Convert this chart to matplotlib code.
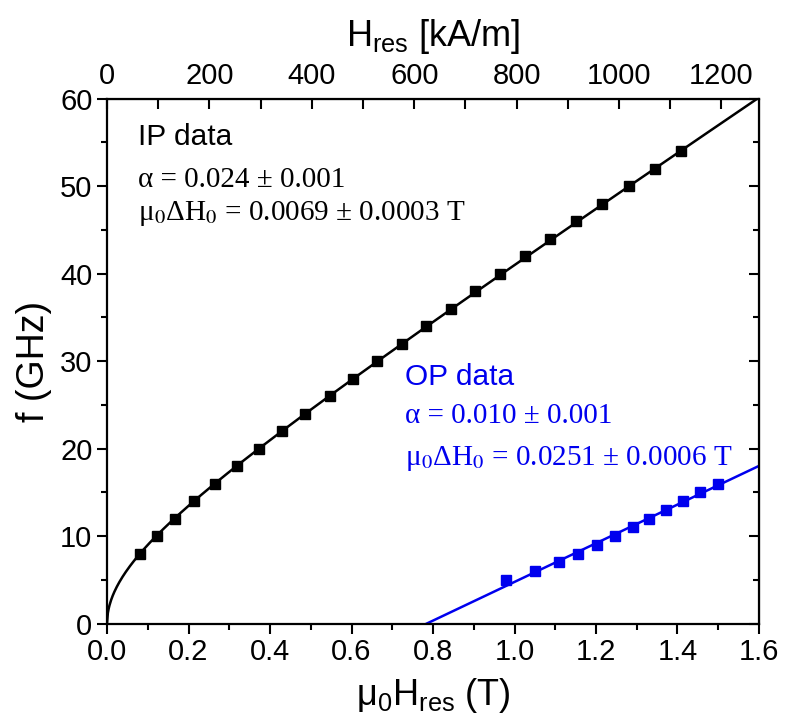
import numpy as np
import matplotlib
matplotlib.use("Agg")
import matplotlib.pyplot as plt
from matplotlib.ticker import MultipleLocator, FixedLocator

plt.rcParams['font.family'] = ['Liberation Sans', 'DejaVu Sans']
plt.rcParams['mathtext.fontset'] = 'custom'
plt.rcParams['mathtext.rm'] = 'Liberation Sans'
plt.rcParams['mathtext.it'] = 'Liberation Sans:italic'

MU0 = 4e-7 * np.pi

# in-plane data: resonance field (T) vs frequency (GHz)
ip_field = [0.081, 0.122, 0.167, 0.214, 0.265, 0.318, 0.374, 0.429, 0.486, 0.547,
            0.604, 0.662, 0.723, 0.783, 0.843, 0.903, 0.964, 1.026, 1.088, 1.151,
            1.215, 1.280, 1.344, 1.408]
ip_freq = [8, 10, 12, 14, 16, 18, 20, 22, 24, 26, 28, 30, 32, 34, 36, 38, 40, 42,
           44, 46, 48, 50, 52, 54]

# out-of-plane data
op_field = [0.979, 1.051, 1.108, 1.157, 1.203, 1.247, 1.292, 1.331, 1.372, 1.413,
            1.455, 1.500]
op_freq = [5, 6, 7, 8, 9, 10, 11, 12, 13, 14, 15, 16]

# Kittel fit parameters
ip_gamma = 31.1    # GHz/T
ip_meff = 0.735    # T
op_gamma = 22.1    # GHz/T
op_meff = 0.785    # T

top_ticks = [0, 200, 400, 600, 800, 1000, 1200]


def plot_fmr():
    fig = plt.figure(figsize=(7.87, 7.17), dpi=100)
    ax = fig.add_axes([0.136, 0.1304, 0.8284, 0.7322])

    b = np.linspace(0, 1.6, 800)
    ax.plot(b, ip_gamma * np.sqrt(b * (b + ip_meff)), color='black', lw=1.8, zorder=2)
    bo = np.linspace(op_meff, 1.6, 50)
    ax.plot(bo, op_gamma * (bo - op_meff), color='#0000ee', lw=1.8, zorder=2)

    ax.plot(ip_field, ip_freq, 's', color='black', ms=7.2, zorder=3)
    ax.plot(op_field, op_freq, 's', color='#0000ee', ms=7.2, zorder=3)

    ax.set_xlim(0, 1.6)
    ax.set_ylim(0, 60)
    ax.xaxis.set_major_locator(MultipleLocator(0.2))
    ax.xaxis.set_minor_locator(MultipleLocator(0.1))
    ax.yaxis.set_major_locator(MultipleLocator(10))
    ax.yaxis.set_minor_locator(MultipleLocator(5))
    ax.xaxis.set_major_formatter(plt.FuncFormatter(lambda v, p: f"{v:.1f}"))
    ax.tick_params(which='both', direction='out', width=1.5, labelsize=21, top=False, right=False)
    ax.tick_params(which='major', length=7)
    ax.tick_params(which='minor', length=4)
    for s in ax.spines.values():
        s.set_linewidth(1.6)

    ax.set_xlabel(r"μ$_0$H$_{\mathrm{res}}$ (T)", fontsize=26, labelpad=7)
    ax.set_ylabel("f (GHz)", fontsize=27, labelpad=6)

    top = ax.secondary_xaxis('top', functions=(lambda x: x / MU0 / 1e3,
                                               lambda h: h * MU0 * 1e3))
    top.xaxis.set_major_locator(FixedLocator(top_ticks))
    top.xaxis.set_minor_locator(FixedLocator([100, 300, 500, 700, 900, 1100]))
    top.tick_params(which='both', direction='in', width=1.5, labelsize=21, pad=6)
    top.tick_params(which='major', length=7)
    top.tick_params(which='minor', length=7)
    top.set_xlabel(r"H$_{\mathrm{res}}$ [kA/m]", fontsize=26, labelpad=12)

    right = ax.secondary_yaxis('right')
    right.yaxis.set_major_locator(MultipleLocator(10))
    right.yaxis.set_minor_locator(MultipleLocator(5))
    right.tick_params(which='both', direction='in', width=1.5, labelright=False)
    right.tick_params(which='major', length=7)
    right.tick_params(which='minor', length=4)

    serif = dict(family='Liberation Serif', math_fontfamily='stix', fontsize=21, va='baseline')
    ax.text(0.076, 54.7, "IP data", fontsize=21.5, va='baseline')
    ax.text(0.076, 49.9, "α = 0.024 ± 0.001", **serif)
    ax.text(0.076, 46.1, "μ$_0$ΔH$_0$ = 0.0069 ± 0.0003 T", **serif)

    blue = '#0000ee'
    ax.text(0.731, 27.3, "OP data", fontsize=21.5, va='baseline', color=blue)
    ax.text(0.731, 22.9, "α = 0.010 ± 0.001", color=blue, **serif)
    ax.text(0.731, 18.1, "μ$_0$ΔH$_0$ = 0.0251 ± 0.0006 T", color=blue, **serif)

    fig.savefig("out.png", dpi=100)


if __name__ == "__main__":
    plot_fmr()
